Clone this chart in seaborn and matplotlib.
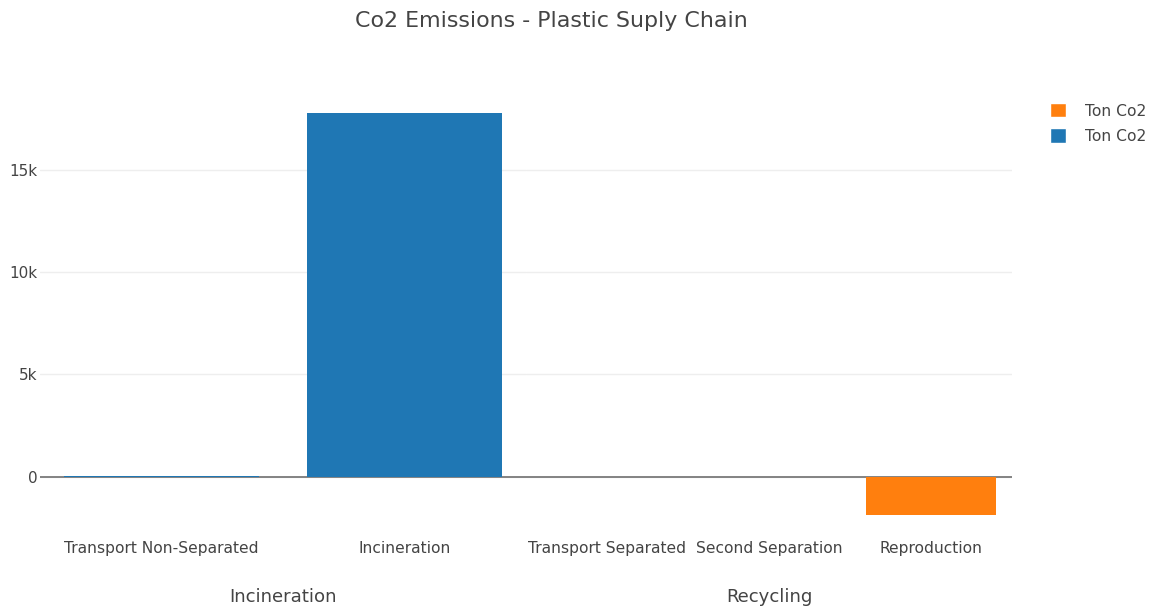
import matplotlib
matplotlib.use("Agg")
import matplotlib.pyplot as plt
from matplotlib.patches import Patch
from matplotlib.ticker import FuncFormatter
import seaborn as sns
import pandas as pd

# Emissions per supply-chain step (tons of CO2)
incineration_steps = ["Transport Non-Separated", "Incineration"]
incineration_co2 = [45, 17780]
recycling_steps = ["Transport Separated", "Second Separation", "Reproduction"]
recycling_co2 = [3, -40, -1860]
group_names = ["Incineration", "Recycling"]
series_name = "Ton Co2"

BLUE = "#1f77b4"
ORANGE = "#ff7f0e"
TEXT = "#444444"

sns.set_theme(style="white")
plt.rcParams["font.family"] = ["DejaVu Sans"]

fig = plt.figure(figsize=(11.53, 6.08), dpi=100)
left, right = 40 / 1153, 1012 / 1153
bottom, top = 1 - 535 / 608, 1 - 96 / 608
half = (right - left) / 2
ax1 = fig.add_axes([left, bottom, half, top - bottom])
ax2 = fig.add_axes([left + half, bottom, half, top - bottom], sharey=ax1)

df_inc = pd.DataFrame({"step": incineration_steps, "co2": incineration_co2})
df_rec = pd.DataFrame({"step": recycling_steps, "co2": recycling_co2})

for ax, df, color, group in [(ax1, df_inc, BLUE, group_names[0]),
                             (ax2, df_rec, ORANGE, group_names[1])]:
    ax.yaxis.grid(True, color="#eeeeee", linewidth=1)
    ax.set_axisbelow(True)
    ax.axhline(0, color="#7a7a7a", linewidth=1.3, zorder=1)
    sns.barplot(data=df, x="step", y="co2", color=color, saturation=1,
                width=0.8, ax=ax, zorder=2, errorbar=None, linewidth=0)
    for s in ax.spines.values():
        s.set_visible(False)
    ax.tick_params(axis="x", length=0, pad=4.5, labelsize=11.2, labelcolor=TEXT)
    ax.set_xlabel(group, fontsize=13.1, color=TEXT, labelpad=23)
    ax.set_ylabel("")

ax1.set_ylim(-2850, 18600)
ax1.set_yticks([0, 5000, 10000, 15000])
ax1.yaxis.set_major_formatter(FuncFormatter(lambda v, p: "0" if v == 0 else f"{int(v / 1000)}k"))
ax1.tick_params(axis="y", length=0, pad=2, labelsize=11, labelcolor=TEXT)
ax2.tick_params(axis="y", left=False, labelleft=False)

fig.suptitle("Co2 Emissions - Plastic Suply Chain", x=0.478, y=0.982,
             fontsize=15.9, color=TEXT)

handles = [Patch(facecolor=ORANGE, label=series_name),
           Patch(facecolor=BLUE, label=series_name)]
fig.legend(handles=handles, loc="upper left", bbox_to_anchor=(1036 / 1153, 1 - 89 / 608),
           frameon=False, fontsize=11.2, labelcolor=TEXT, handlelength=1.05,
           handleheight=1.05, handletextpad=1.2, labelspacing=0.62)

fig.savefig("out.png", dpi=100)
